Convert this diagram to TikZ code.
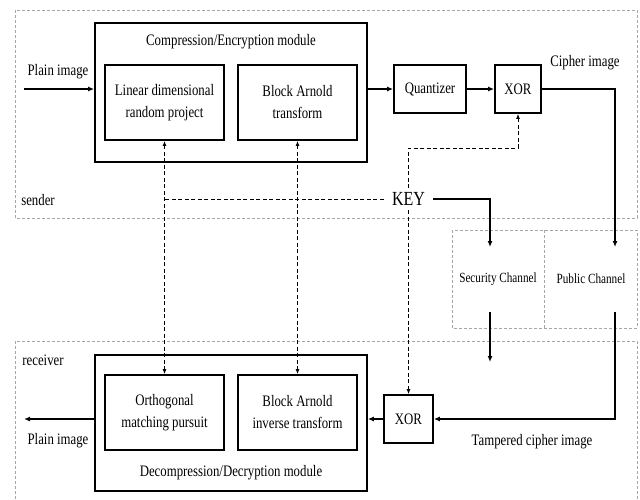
\documentclass[tikz,border=0pt]{standalone}
\usepackage{fontspec}
\setmainfont{Liberation Serif}[FakeStretch=0.8]
\usetikzlibrary{arrows.meta}

\begin{document}
\begin{tikzpicture}[x=1pt,y=-1pt,
    txt/.style={font=\fontsize{16}{22}\selectfont,align=center,inner sep=0pt},
    small/.style={font=\fontsize{14}{17}\selectfont,inner sep=0pt},
    box/.style={draw,line width=1.8pt,txt},
    region/.style={draw=black!35,dash pattern=on 3pt off 2pt,line width=0.6pt},
    flow/.style={line width=1.5pt,-{Latex[length=6pt,width=5pt]}},
    keydash/.style={dash pattern=on 4pt off 2.5pt,line width=0.9pt},
    keyline/.style={keydash,{Latex[length=5pt,width=4pt]}-{Latex[length=5pt,width=4pt]}}]
    \useasboundingbox (0,0) rectangle (640,499);
    % sender, channels, receiver
    \draw[region] (15,10) rectangle (637,218);
    \draw[region] (452,230) rectangle (637,328);
    \draw[region] (544,230) -- (544,328);
    \draw[region] (15,499) -- (15,341) -- (637,341) -- (637,499);
    \node[txt] (sender) at (38,200) {sender};
    \node[txt] (receiver) at (43,360) {receiver};

    % encryption side
    \node[box,minimum width=272,minimum height=139] (enc) at (231,92.5) {};
    \node[txt] (enctitle) at (231,42) {Compression/Encryption module};
    \node[box,minimum width=119,minimum height=75] (ldrp) at (164.5,102.5) {Linear dimensional\\random project};
    \node[box,minimum width=119,minimum height=75] (bat) at (297.5,102.5) {Block Arnold\\transform};
    \node[box,minimum width=72,minimum height=48] (quant) at (430,89) {Quantizer};
    \node[box,minimum width=46,minimum height=48] (xorA) at (518,89) {XOR};
    \coordinate (inL) at (24,89);
    \node[txt] (plainin) at (58,72) {Plain image};
    \node[txt] (cipher) at (585,63) {Cipher image};
    \draw[flow] (inL) -- (inL -| enc.west);
    \draw[flow] (enc.east |- quant.west) -- (quant.west);
    \draw[flow] (quant) -- (xorA);

    % channels
    \node[small] (sec) at (498,279) {Security Channel};
    \node[small] (pub) at (591,279) {Public Channel};
    \coordinate (pubin) at (615,247);
    \coordinate (secin) at (490,247);
    \coordinate (pubout) at (615,312);
    \coordinate (secout) at (490,312);
    \coordinate (secend) at (490,362);
    \draw[flow] (xorA.east) -| (pubin);
    \draw[flow] (secout) -- (secend);

    % decryption side
    \node[box,minimum width=272,minimum height=136] (dec) at (231,423) {};
    \node[txt] (dectitle) at (231,473) {Decompression/Decryption module};
    \node[box,minimum width=119,minimum height=75] (omp) at (164.5,412.5) {Orthogonal\\matching pursuit};
    \node[box,minimum width=119,minimum height=75] (bait) at (297.5,412.5) {Block Arnold\\inverse transform};
    \node[box,minimum width=49,minimum height=48] (xorB) at (408.5,419) {XOR};
    \coordinate (outL) at (24,419);
    \node[txt] (plainout) at (58,441) {Plain image};
    \node[txt] (tampered) at (532,442) {Tampered cipher image};
    \draw[flow] (pubout) |- (xorB.east);
    \draw[flow] (xorB.west) -- (xorB.west -| dec.east);
    \draw[flow] (dec.west |- xorB.west) -- (outL);

    % key
    \coordinate (kbend) at (408.5,148);
    \draw[keyline] (xorA.south) |- (kbend) -- (xorB.north);
    \node[font=\fontsize{20}{24}\selectfont,fill=white,inner xsep=8pt,inner ysep=2pt] (key) at (408.5,199) {KEY};
    \draw[keydash] (key.west) -- (key.west -| ldrp.south);
    \draw[keyline] (ldrp.south) -- (omp.north);
    \draw[keyline] (bat.south) -- (bait.north);
    \draw[flow,line width=2.2pt] (key.east) -| (secin);
\end{tikzpicture}
\end{document}
